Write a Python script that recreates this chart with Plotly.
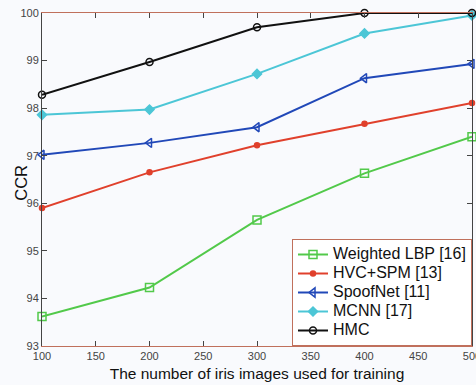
import plotly.graph_objects as go

x_vals = [100, 200, 300, 400, 500]
weighted_lbp = [93.62, 94.23, 95.65, 96.63, 97.40]
hvc_spm = [95.90, 96.65, 97.22, 97.67, 98.11]
spoofnet = [97.02, 97.27, 97.60, 98.63, 98.93]
mcnn = [97.86, 97.97, 98.72, 99.57, 99.95]
hmc = [98.28, 98.97, 99.70, 100.0, 100.0]

series_names = ["Weighted LBP [16]", "HVC+SPM [13]", "SpoofNet [11]", "MCNN [17]", "HMC"]
x_ticks = [100, 150, 200, 250, 300, 350, 400, 450, 500]
y_ticks = [93, 94, 95, 96, 97, 98, 99, 100]
x_title = "The number of iris images used for training"
y_title = "CCR"

styles = [
    ("#52c94a", "square-open", 8),
    ("#e0402c", "circle", 5),
    ("#2148b8", "triangle-left-open", 8),
    ("#4cc6d6", "diamond", 7),
    ("#111111", "circle-open", 7),
]
data = [weighted_lbp, hvc_spm, spoofnet, mcnn, hmc]

fig = go.Figure()
for name, vals, (color, sym, size) in zip(series_names, data, styles):
    fig.add_trace(go.Scatter(
        x=x_vals, y=vals, name='<span style="font-size:16px">' + name + '</span>',
        mode="lines+markers",
        line=dict(color=color, width=2),
        marker=dict(symbol=sym, size=size, color=color, line=dict(color=color, width=1.5)),
        cliponaxis=False,
    ))

frame = "#c0705c"
fig.update_layout(
    width=476, height=385,
    margin=dict(l=42, r=4, t=13, b=39),
    paper_bgcolor="#f9fafd",
    plot_bgcolor="#f9fafd",
    font=dict(family="Arial, Liberation Sans, sans-serif", color="#222"),
    showlegend=True,
    legend=dict(
        x=1.0, xanchor="right", y=0, yanchor="bottom",
        bgcolor="#ffffff", bordercolor=frame, borderwidth=1,
        font=dict(size=12, color="#111"),
        tracegroupgap=0, itemwidth=30,
    ),
    annotations=[dict(
        text=y_title, textangle=-90, xref="paper", yref="paper",
        x=-0.049, y=0.49, xanchor="center", yanchor="middle", showarrow=False,
        font=dict(size=16.5, color="#111"),
    )],
)
fig.update_xaxes(
    range=[100, 500], tickvals=x_ticks, ticks="inside", ticklen=5,
    tickcolor="#444", showgrid=False, zeroline=False, automargin=False,
    showline=True, linecolor=frame, linewidth=1, mirror="ticks",
    tickfont=dict(size=11, color="#444"), ticklabeloverflow="allow",
    title=dict(text=x_title, font=dict(size=15.5, color="#111"), standoff=6),
)
fig.update_yaxes(
    range=[93, 100], tickvals=y_ticks, ticks="inside", ticklen=5,
    tickcolor="#444", showgrid=False, zeroline=False, automargin=False,
    showline=True, linecolor="#444", linewidth=1, mirror="ticks",
    tickfont=dict(size=11, color="#444"),
)

fig.write_html(
    "out.html",
    config={"displayModeBar": False},
    post_script="document.body.style.margin='0';document.body.style.background='#f9fafd';",
)
